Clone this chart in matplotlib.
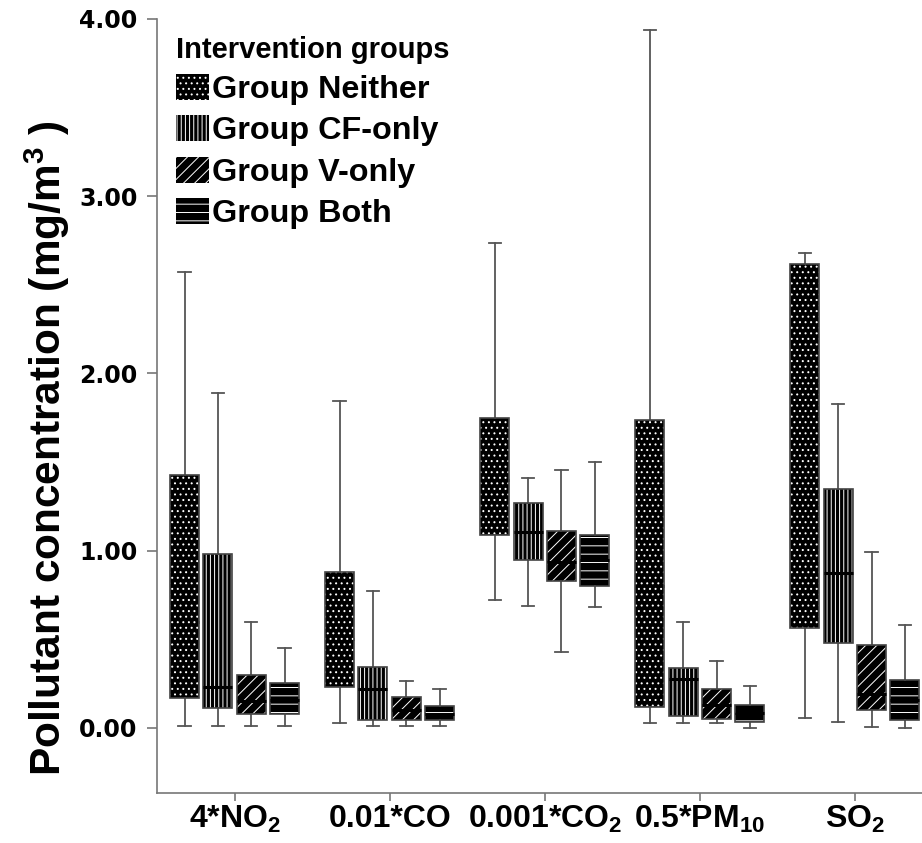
import matplotlib
matplotlib.use("Agg")
import matplotlib.pyplot as plt
from matplotlib.patches import Patch, PathPatch
import numpy as np

pollutants = ["4*NO$_2$", "0.01*CO", "0.001*CO$_2$", "0.5*PM$_{10}$", "SO$_2$"]
groups = ["Group Neither", "Group CF-only", "Group V-only", "Group Both"]
hatches = ["...", "||||", "///", "--"]

# rows = groups (Neither, CF-only, V-only, Both), cols = pollutants
whislo = [
    [0.011, 0.027, 0.72, 0.03, 0.055],
    [0.011, 0.013, 0.69, 0.03, 0.035],
    [0.011, 0.013, 0.43, 0.03, 0.005],
    [0.011, 0.013, 0.68, 0.00, 0.00],
]
q1 = [
    [0.17, 0.23, 1.09, 0.12, 0.565],
    [0.11, 0.045, 0.95, 0.07, 0.48],
    [0.08, 0.045, 0.83, 0.05, 0.10],
    [0.08, 0.045, 0.80, 0.035, 0.045],
]
med = [
    [0.60, 0.50, 1.40, 0.80, 1.60],
    [0.23, 0.22, 1.105, 0.275, 0.875],
    [0.15, 0.10, 0.935, 0.13, 0.19],
    [0.16, 0.08, 0.95, 0.085, 0.16],
]
q3 = [
    [1.43, 0.88, 1.75, 1.74, 2.62],
    [0.98, 0.346, 1.27, 0.34, 1.35],
    [0.30, 0.175, 1.11, 0.22, 0.47],
    [0.252, 0.122, 1.09, 0.13, 0.27],
]
whishi = [
    [2.57, 1.845, 2.735, 3.94, 2.68],
    [1.89, 0.773, 1.41, 0.60, 1.83],
    [0.60, 0.267, 1.455, 0.38, 0.995],
    [0.45, 0.22, 1.50, 0.234, 0.58],
]
yticks = [0, 1, 2, 3, 4]

plt.rcParams["mathtext.fontset"] = "custom"
plt.rcParams["mathtext.rm"] = "Liberation Sans:bold"
plt.rcParams["mathtext.it"] = "Liberation Sans:bold"
plt.rcParams["mathtext.bf"] = "Liberation Sans:bold"
plt.rcParams["hatch.linewidth"] = 0.7

fig = plt.figure(figsize=(9.22, 8.43), dpi=100)
ax = fig.add_axes([157 / 922, 50 / 843, (932.5 - 157) / 922, (793 - 19) / 843])

offsets = [-1.5, -0.5, 0.5, 1.5]
step = 0.215
gray = "#555555"

for g in range(len(groups)):
    stats = []
    for p in range(len(pollutants)):
        stats.append(dict(whislo=whislo[g][p], q1=q1[g][p], med=med[g][p],
                          q3=q3[g][p], whishi=whishi[g][p]))
    pos = np.arange(len(pollutants)) + offsets[g] * step
    bp = ax.bxp(stats, positions=pos, widths=0.187, capwidths=0.08,
                patch_artist=True, showfliers=False,
                whiskerprops=dict(color=gray, lw=1.3),
                capprops=dict(color=gray, lw=1.3),
                medianprops=dict(color="black", lw=2.2))
    for box in bp["boxes"]:
        box.set_facecolor("black")
        box.set_edgecolor("white")
        box.set_hatch(hatches[g])
        box.set_linewidth(0)
        ax.add_patch(PathPatch(box.get_path(), transform=box.get_transform(),
                               fill=False, edgecolor="#444444", lw=1.2,
                               zorder=box.get_zorder() + 0.05))
    if g == 0:
        # median of the dark dotted boxes does not show
        for m in bp["medians"]:
            m.set_zorder(1)

ax.set_xlim(-0.5, 4.5)
ax.set_ylim(-0.367, 4.0)
ax.set_xticks(np.arange(len(pollutants)))
ax.set_xticklabels(pollutants, fontfamily="Liberation Sans", fontweight="bold", fontsize=23)
ax.set_yticks(yticks)
ax.set_yticklabels([f"{v:.2f}" for v in yticks], fontfamily="DejaVu Sans",
                   fontweight="bold", fontsize=17)

for s in ["top", "right"]:
    ax.spines[s].set_visible(False)
for s in ["left", "bottom"]:
    ax.spines[s].set_color("#777777")
    ax.spines[s].set_linewidth(1.2)
ax.tick_params(colors="#777777", width=1.2, labelcolor="black")
ax.tick_params(axis="x", length=6, pad=2)
ax.tick_params(axis="y", length=7, pad=7)

ax.set_ylabel("Pollutant concentration (mg/m$^3$ )", fontfamily="Liberation Sans",
              fontweight="bold", fontsize=30.5)
ax.yaxis.set_label_coords(-0.110, 0.446)

handles = [Patch(facecolor="black", edgecolor="white", hatch=h, lw=0) for h in hatches]
leg = ax.legend(handles, groups, title="Intervention groups", loc="upper left",
                bbox_to_anchor=(176 / 922, 1 - 36 / 843), bbox_transform=fig.transFigure,
                frameon=False, borderpad=0, borderaxespad=0,
                prop=dict(family="Liberation Sans", weight="bold", size=23.3),
                title_fontproperties=dict(family="Liberation Sans", weight="bold", size=21),
                alignment="left", handlelength=1.02, handleheight=0.86,
                handletextpad=0.1, labelspacing=0.31)

fig.savefig("out.png", dpi=100)
